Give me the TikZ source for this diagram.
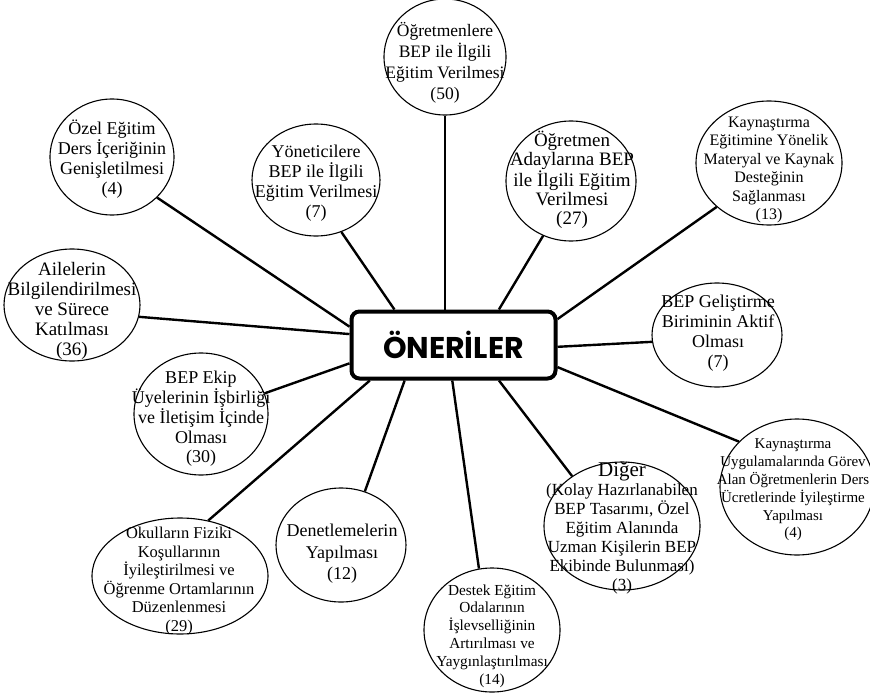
\documentclass[tikz,border=0pt]{standalone}
\usepackage{fontspec}
\setmainfont{Liberation Serif}
\newfontfamily\headfont{Poppins}
\usetikzlibrary{shapes.geometric}
\tikzset{
  ell/.style={draw, ellipse, line width=1.1pt, inner sep=0pt},
  txt/.style={align=center, inner sep=0pt, font=\fontsize{18}{19.8}\selectfont},
  conn/.style={line width=2.4pt},
  mainbox/.style={draw, line width=4pt, rounded corners=8pt, minimum width=204pt, minimum height=67pt, font=\headfont\bfseries\fontsize{30}{32}\selectfont}
}
\begin{document}
\begin{tikzpicture}[x=1pt,y=-1pt]
\useasboundingbox (0,0) rectangle (870,693);
% central
\node[mainbox] (box) at (453.5,345) {ÖNERİLER};
% ellipses
\node[ell, minimum width=122pt, minimum height=116pt] (e1) at (445,57) {};
\node[ell, minimum width=124pt, minimum height=116pt] (e2) at (112,157) {};
\node[ell, minimum width=128pt, minimum height=112pt] (e3) at (316,180) {};
\node[ell, minimum width=130pt, minimum height=120pt] (e4) at (571,181) {};
\node[ell, minimum width=146pt, minimum height=124pt] (e5) at (769,163) {};
\node[ell, minimum width=136pt, minimum height=112pt] (e6) at (72,305) {};
\node[ell, minimum width=130pt, minimum height=104pt] (e7) at (717,335) {};
\node[ell, minimum width=134pt, minimum height=122pt] (e8) at (201,414) {};
\node[ell, minimum width=176pt, minimum height=116pt] (e9) at (180,576) {};
\node[ell, minimum width=130pt, minimum height=114pt] (e10) at (341,545) {};
\node[ell, minimum width=136pt, minimum height=124pt] (e11) at (492,630) {};
\node[ell, minimum width=156pt, minimum height=128pt] (e12) at (622,526) {};
\node[ell, minimum width=154pt, minimum height=136pt] (e13) at (797,487) {};
% texts
\node[txt, font=\fontsize{17.5}{21}\selectfont] (t1) at (445,63) {Öğretmenlere\\BEP ile İlgili\\Eğitim Verilmesi\\(50)};
\node[txt] (t2) at (112,159) {Özel Eğitim\\Ders İçeriğinin\\Genişletilmesi\\(4)};
\node[txt] (t3) at (316,183) {Yöneticilere\\BEP ile İlgili\\Eğitim Verilmesi\\(7)};
\node[txt, font=\fontsize{19}{19.2}\selectfont] (t4) at (572,180) {Öğretmen\\Adaylarına BEP\\ile İlgili Eğitim\\Verilmesi\\(27)};
\node[txt, font=\fontsize{16}{18.5}\selectfont] (t5) at (769,170) {Kaynaştırma\\Eğitimine Yönelik\\Materyal ve Kaynak\\Desteğinin\\Sağlanması\\(13)};
\node[txt, font=\fontsize{19}{19.8}\selectfont] (t6) at (72,311) {Ailelerin\\Bilgilendirilmesi\\ve Sürece\\Katılması\\(36)};
\node[txt] (t7) at (718,333) {BEP Geliştirme\\Biriminin Aktif\\Olması\\(7)};
\node[txt] (t8) at (201,419) {BEP Ekip\\Üyelerinin İşbirliği\\ve İletişim İçinde\\Olması\\(30)};
\node[txt, font=\fontsize{16.5}{18.5}\selectfont] (t9) at (179,581) {Okulların Fiziki\\Koşullarının\\İyileştirilmesi ve\\Öğrenme Ortamlarının\\Düzenlenmesi\\(29)};
\node[txt, font=\fontsize{18}{21.5}\selectfont] (t10) at (342,554) {Denetlemelerin\\Yapılması\\(12)};
\node[txt, font=\fontsize{15.3}{17.8}\selectfont] (t11) at (492,636) {Destek Eğitim\\Odalarının\\İşlevselliğinin\\Artırılması ve\\Yaygınlaştırılması\\(14)};
\node[txt, font=\fontsize{17}{19}\selectfont] (t12) at (622,528) {{\fontsize{21}{22}\selectfont Diğer}\\(Kolay Hazırlanabilen\\BEP Tasarımı, Özel\\Eğitim Alanında\\Uzman Kişilerin BEP\\Ekibinde Bulunması)\\(3)};
\node[txt, font=\fontsize{15}{17.8}\selectfont] (t13) at (793,490) {Kaynaştırma\\Uygulamalarında Görev\\Alan Öğretmenlerin Ders\\Ücretlerinde İyileştirme\\Yapılması\\(4)};
% connectors
\draw[conn] (e1.south) -- (e1.south |- box.north);
\draw[conn] (e2.-42.8) -- (box.170.1);
\draw[conn] (e3.-64.4) -- (box.149.5);
\draw[conn] (e4.-117.7) -- (box.38.8);
\draw[conn] (e5.-140.9) -- (box.14.6);
\draw[conn] (e6.-10.8) -- (box.174.5);
\draw[conn] (e7.186.2) -- (box.-1.1);
\draw[conn] (e8.18.2) -- (box.-170.7);
\draw[conn] (e9.63.9) -- (box.-157.7);
\draw[conn] (e10.66.4) -- (box.-144.2);
\draw[conn] (e11.102.7) -- (box.-92.5);
\draw[conn] (e12.135) -- (box.-38.8);
\draw[conn] (e13.142) -- (box.-12.5);
\end{tikzpicture}
\end{document}
